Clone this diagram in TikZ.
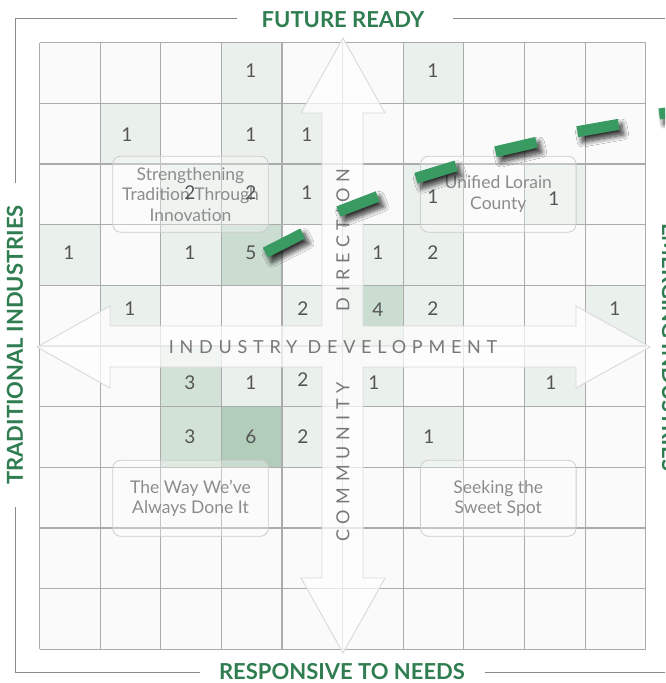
\documentclass[tikz,border=0pt]{standalone}
\usepackage{fontspec}
\setmainfont{Lato}
\usetikzlibrary{shadows.blur}
\definecolor{tgreen}{HTML}{2F7D50}
\definecolor{dgreen}{HTML}{3A9B62}
\definecolor{gridgray}{HTML}{ABABAB}
\definecolor{framegray}{HTML}{8A8A8A}
\definecolor{numgray}{HTML}{555555}
\definecolor{labgray}{HTML}{8C8C8C}
\definecolor{axgray}{HTML}{787878}
\definecolor{lvA}{HTML}{EAF0EB}
\definecolor{lvB}{HTML}{D2E2D6}
\definecolor{lvC}{HTML}{CBDDD0}
\definecolor{lvD}{HTML}{B3CDBB}
\tikzset{
  gridline/.style={draw=gridgray, line width=1.1pt},
  framerule/.style={draw=framegray, line width=1.2pt},
  title/.style={font=\fontsize{22}{22}\selectfont\bfseries, text=tgreen, inner sep=0pt},
  num/.style={font=\fontsize{19}{19}\selectfont, text=numgray, inner sep=0pt},
  quadbox/.style={draw=black!20, line width=0.8pt, rounded corners=8pt, fill=white, fill opacity=0.3, text opacity=1,
     text=labgray, font=\fontsize{17.5}{20.5}\selectfont, align=center, minimum width=155.6pt, minimum height=76pt, inner sep=0pt},
  axislab/.style={font=\fontsize{18}{18}\selectfont\addfontfeature{LetterSpace=32}, text=axgray, inner sep=0pt},
  bigarrow/.style={fill=white, fill opacity=0.72, draw=black!15, line width=0.9pt},
  trenddash/.style={rectangle, fill=dgreen, inner sep=0pt, minimum width=42pt, minimum height=11pt,
     blur shadow={shadow xshift=4pt, shadow yshift=-5pt, shadow opacity=80, shadow blur steps=10, shadow blur radius=5pt}}
}
\begin{document}
\begin{tikzpicture}[x=1pt,y=-1pt]
\useasboundingbox (0,0) rectangle (665,683);
\clip (0,0) rectangle (665,683);

% grid and shaded cells
\begin{scope}[xshift=39.5pt, yshift=-42.7pt, x=60.62pt, y=-60.66pt]
  \fill[black!2] (0,0) rectangle (10,10);
  % row 0
  \fill[lvA] (3,0) rectangle (4,1);
  \fill[lvA] (6,0) rectangle (7,1);
  % row 1
  \fill[lvA] (1,1) rectangle (2,2);
  \fill[lvA] (3,1) rectangle (4,2);
  \fill[lvA] (4,1) rectangle (5,2);
  % row 2
  \fill[lvA] (2,2) rectangle (3,3);
  \fill[lvA] (3,2) rectangle (4,3);
  \fill[lvA] (4,2) rectangle (5,3);
  \fill[lvA] (6,2) rectangle (7,3);
  \fill[lvA] (8,2) rectangle (9,3);
  % row 3
  \fill[lvA] (0,3) rectangle (1,4);
  \fill[lvA] (2,3) rectangle (3,4);
  \fill[lvC] (3,3) rectangle (4,4);
  \fill[lvA] (5,3) rectangle (6,4);
  \fill[lvA] (6,3) rectangle (7,4);
  % row 4
  \fill[lvA] (1,4) rectangle (2,5);
  \fill[lvA] (4,4) rectangle (5,5);
  \fill[lvC] (5,4) rectangle (6,5);
  \fill[lvA] (6,4) rectangle (7,5);
  \fill[lvA] (9,4) rectangle (10,5);
  % row 5
  \fill[lvB] (2,5) rectangle (3,6);
  \fill[lvA] (3,5) rectangle (4,6);
  \fill[lvA] (4,5) rectangle (5,6);
  \fill[lvA] (5,5) rectangle (6,6);
  \fill[lvA] (8,5) rectangle (9,6);
  % row 6
  \fill[lvB] (2,6) rectangle (3,7);
  \fill[lvD] (3,6) rectangle (4,7);
  \fill[lvA] (4,6) rectangle (5,7);
  \fill[lvA] (6,6) rectangle (7,7);
  \foreach \i in {0,...,10} {
    \draw[gridline] (\i,0) -- (\i,10);
    \draw[gridline] (0,\i) -- (10,\i);
  }
\end{scope}

% crossed block arrows (union)
\path[bigarrow] (343,38) -- (385,113) -- (363,113) -- (363,326) -- (576,326) -- (576,306) -- (650,347)
  -- (576,388) -- (576,367) -- (363,367) -- (363,578) -- (385,578) -- (343,653) -- (301,578)
  -- (322,578) -- (322,367) -- (110,367) -- (110,388) -- (37,347) -- (110,306) -- (110,326)
  -- (322,326) -- (322,113) -- (301,113) -- cycle;

% axis labels
\node[axislab] (ind) at (333,347) {INDUSTRY DEVELOPMENT};
\node[axislab, rotate=90] (dir) at (343,240) {DIRECTION};
\node[axislab, rotate=90] (com) at (343,462) {COMMUNITY};

% quadrant boxes
\node[quadbox] (q1) at (190.5,194.2) {Strengthening\\Tradition Through\\Innovation};
\node[quadbox] (q2) at (498.3,194.2) {Unified Lorain\\County};
\node[quadbox] (q3) at (190.5,498.3) {The Way We’ve\\Always Done It};
\node[quadbox] (q4) at (498.3,498.3) {Seeking the\\Sweet Spot};

% numbers
\node[num] (a1) at (251,71) {1};
\node[num] (a2) at (433,71) {1};
\node[num] (b1) at (127,135) {1};
\node[num] (b2) at (251,135) {1};
\node[num] (b3) at (307,135) {1};
\node[num] (c1) at (190,193) {2};
\node[num] (c2) at (251,193) {2};
\node[num] (c3) at (307,193) {1};
\node[num] (c4) at (433,197) {1};
\node[num] (c5) at (554,199) {1};
\node[num] (d1) at (69,253) {1};
\node[num] (d2) at (190,253) {1};
\node[num] (d3) at (251,253) {5};
\node[num] (d4) at (378,253) {1};
\node[num] (d5) at (433,253) {2};
\node[num] (e1) at (130,309) {1};
\node[num] (e2) at (303,309) {2};
\node[num] (e3) at (378,310) {4};
\node[num] (e4) at (433,309) {2};
\node[num] (e5) at (615,309) {1};
\node[num] (f1) at (190,383) {3};
\node[num] (f2) at (251,383) {1};
\node[num] (f3) at (303,380) {2};
\node[num] (f4) at (374,383) {1};
\node[num] (f5) at (551,383) {1};
\node[num] (g1) at (190,437) {3};
\node[num] (g2) at (251,437) {6};
\node[num] (g3) at (303,437) {2};
\node[num] (g4) at (429,437) {1};

% trend dashes
\node[trenddash, rotate=27] (t1) at (284,243) {};
\node[trenddash, rotate=21] (t2) at (358,204) {};
\node[trenddash, rotate=17] (t3) at (436,172) {};
\node[trenddash, rotate=13] (t4) at (516,147) {};
\node[trenddash, rotate=10] (t5) at (598,128) {};
\node[trenddash, rotate=8] (t6) at (680,111) {};

% frame titles
\node[title] (top) at (343,20) {FUTURE READY};
\node[title] (bot) at (342,672) {RESPONSIVE TO NEEDS};
\node[title, rotate=90] (lft) at (15,345) {TRADITIONAL INDUSTRIES};
\node[title, rotate=-90] (rgt) at (670,347) {EMERGING INDUSTRIES};

% frame rules
\coordinate (tl) at (15.5,18.7);
\coordinate (bl) at (15.5,672.3);
\draw[framerule] (237,18.7) -- (tl) -- (15.5,183);
\draw[framerule] (453,18.7) -- (665,18.7);
\draw[framerule] (15.5,506.7) -- (bl) -- (200,672.3);
\draw[framerule] (485,672.3) -- (665,672.3);
\end{tikzpicture}
\end{document}
